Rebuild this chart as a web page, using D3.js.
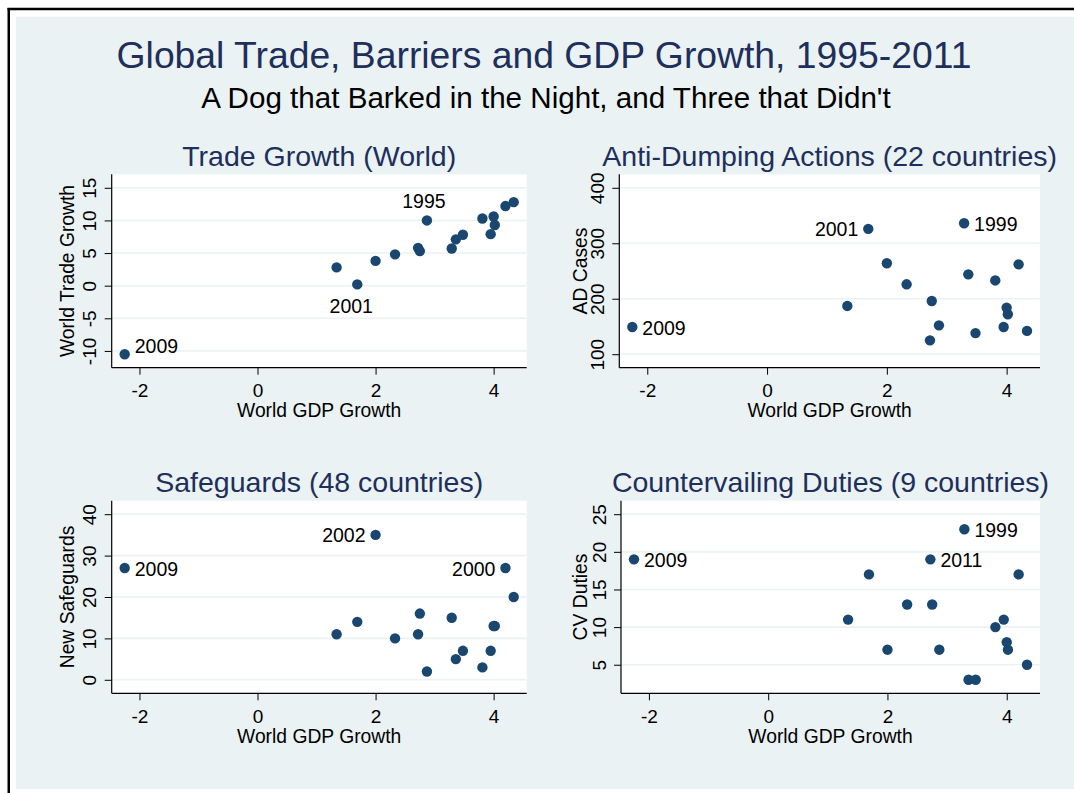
<!DOCTYPE html>
<html>
<head>
<meta charset="utf-8">
<script src="https://cdn.jsdelivr.net/npm/d3@7"></script>
<style>
  html, body { margin: 0; padding: 0; background: #ffffff; }
  svg { display: block; font-family: "Liberation Sans", Arial, sans-serif; }
</style>
</head>
<body>
<svg id="chart" width="1074" height="793"></svg>
<script>
// ---- Dados
const years       = [1995, 1996, 1997, 1998, 1999, 2000, 2001, 2002, 2003, 2004, 2005, 2006, 2007, 2008, 2009, 2010, 2011];
const gdpGrowth   = [2.87, 3.36, 3.81, 2.33, 3.29, 4.20, 1.69, 2.00, 2.75, 4.02, 3.48, 3.95, 4.00, 1.34, -2.25, 4.34, 2.72];
const tradeGrowth = [10.0, 7.1, 10.3, 4.8, 5.7, 12.2, 0.2, 3.8, 5.3, 9.3, 7.8, 7.9, 10.6, 2.8, -10.5, 12.8, 5.8];
const adCases     = [152, 244, 233, 226, 336, 262, 326, 264, 196, 172, 138, 149, 184, 187, 149, 142, 125];
const safeguards  = [2, 5, 3, 10, 15, 27, 14, 35, 16, 13, 7, 7, 13, 11, 27, 20, 11];
const cvDuties    = [7, 3, 10, 13, 23, 17, 17, 7, 13, 7, 3, 11, 8, 11, 19, 5, 19];

const xTicks     = [-2, 0, 2, 4];
const tradeTicks = [-10, -5, 0, 5, 10, 15];
const adTicks    = [100, 200, 300, 400];
const sgTicks    = [0, 10, 20, 30, 40];
const cvTicks    = [5, 10, 15, 20, 25];

const mainTitle = 'Global Trade, Barriers and GDP Growth, 1995-2011';
const subTitle  = "A Dog that Barked in the Night, and Three that Didn't";
const xTitle    = 'World GDP Growth';

// ---- Cores / estilo
const navy = '#1a476f';
const titleColor = '#1e2f5c';
const bg = '#eaf2f3';
const fmt = d => String(d); // hífen simples, como no original

// ---- Posição dos rótulos (estilo "clock position" do Stata)
const clock = {
    2:  { dx: 10,  dy: -1,  anchor: 'start' },
    3:  { dx: 10,  dy: 7.5, anchor: 'start' },
    9:  { dx: -10, dy: 7.5, anchor: 'end' },
    12: { dx: -3,  dy: -12, anchor: 'middle' },
    6:  { dx: -6,  dy: 29,  anchor: 'middle' }
};

const panels = [
    { title: 'Trade Growth (World)', yTitle: 'World Trade Growth', values: tradeGrowth, ticks: tradeTicks,
      labels: [[1995, 12], [2001, 6], [2009, 2]],
      rect: { x: 111.7, y: 174.3, w: 415, h: 193.4 }, yTitleOff: 37.7 },
    { title: 'Anti-Dumping Actions (22 countries)', yTitle: 'AD Cases', values: adCases, ticks: adTicks,
      labels: [[2001, 9], [1999, 3], [2009, 3]],
      rect: { x: 619.3, y: 174.3, w: 420.7, h: 193.4 }, yTitleOff: 32.6 },
    { title: 'Safeguards (48 countries)', yTitle: 'New Safeguards', values: safeguards, ticks: sgTicks,
      labels: [[2002, 9], [2000, 9], [2009, 3]],
      rect: { x: 111.7, y: 500.7, w: 415, h: 192.6 }, yTitleOff: 37.7 },
    { title: 'Countervailing Duties (9 countries)', yTitle: 'CV Duties', values: cvDuties, ticks: cvTicks,
      labels: [[1999, 3], [2011, 3], [2009, 3]],
      rect: { x: 621, y: 500.7, w: 419, h: 192.6 }, yTitleOff: 34.3 }
];

const svg = d3.select('#chart');

// ---- Moldura e fundo
svg.append('rect').attr('x', 16).attr('y', 16.7).attr('width', 1074 - 16).attr('height', 789 - 16.7).attr('fill', bg);
svg.append('line').attr('x1', 8.75).attr('x2', 8.75).attr('y1', 7.9).attr('y2', 793)
    .attr('stroke', '#000').attr('stroke-width', 2.5);
svg.append('line').attr('x1', 7.5).attr('x2', 1074).attr('y1', 9.1).attr('y2', 9.1)
    .attr('stroke', '#000').attr('stroke-width', 2.5);

// ---- Títulos
svg.append('text').attr('x', 544).attr('y', 68).attr('text-anchor', 'middle')
    .attr('font-size', 37.3).attr('fill', titleColor).text(mainTitle);
svg.append('text').attr('x', 546).attr('y', 108).attr('text-anchor', 'middle')
    .attr('font-size', 29.6).attr('fill', '#000').text(subTitle);

const data = years.map((yr, i) => ({ year: yr, gdp: gdpGrowth[i] }));

panels.forEach(p => {
    const r = p.rect;
    const g = svg.append('g').attr('transform', `translate(${r.x}, ${r.y})`);
    const vals = p.values;
    const rows = data.map((d, i) => ({ year: d.year, x: d.gdp, y: vals[i] }));

    // escalas: domínio = extensão de dados + ticks, com margem interna
    const xExt = d3.extent(gdpGrowth.concat(xTicks));
    const yExt = d3.extent(vals.concat(p.ticks));
    const mapX = d3.scaleLinear().domain(xExt).range([13, r.w - 13]);
    const mapY = d3.scaleLinear().domain(yExt).range([r.h - 13.5, 13.5]);

    // região do gráfico
    g.append('rect').attr('width', r.w).attr('height', r.h).attr('fill', '#fff');

    // grade
    g.append('g').selectAll('line').data(p.ticks).join('line')
        .attr('x1', 0).attr('x2', r.w)
        .attr('y1', d => mapY(d)).attr('y2', d => mapY(d))
        .attr('stroke', bg).attr('stroke-width', 1.6);

    // eixo X
    const axX = g.append('g').attr('transform', `translate(0, ${r.h})`)
        .call(d3.axisBottom(mapX).tickValues(xTicks).tickSize(7).tickFormat(fmt));
    axX.select('.domain').remove();
    axX.selectAll('line').attr('stroke', '#000');
    axX.selectAll('text').attr('y', 29.8).attr('dy', null)
        .attr('font-size', 19).attr('font-family', null).attr('fill', '#000');

    // eixo Y (rótulos verticais)
    const axY = g.append('g')
        .call(d3.axisLeft(mapY).tickValues(p.ticks).tickSize(7).tickFormat(fmt));
    axY.select('.domain').remove();
    axY.selectAll('line').attr('stroke', '#000');
    axY.selectAll('text').attr('x', 0).attr('dy', null)
        .attr('transform', 'translate(-15.5, 0) rotate(-90)')
        .attr('text-anchor', 'middle')
        .attr('font-size', 19).attr('font-family', null).attr('fill', '#000');

    // linhas dos eixos
    g.append('line').attr('x1', 0).attr('x2', 0).attr('y1', 0).attr('y2', r.h).attr('stroke', '#000').attr('stroke-width', 1.2);
    g.append('line').attr('x1', 0).attr('x2', r.w).attr('y1', r.h).attr('y2', r.h).attr('stroke', '#000').attr('stroke-width', 1.2);

    // títulos do painel e dos eixos
    g.append('text').attr('x', r.w / 2).attr('y', -8.3).attr('text-anchor', 'middle')
        .attr('font-size', 28.5).attr('fill', titleColor).text(p.title);
    g.append('text').attr('x', r.w / 2).attr('y', r.h + 49.5).attr('text-anchor', 'middle')
        .attr('font-size', 19.3).attr('fill', '#000').text(xTitle);
    g.append('text').attr('transform', `translate(${-p.yTitleOff}, ${r.h / 2}) rotate(-90)`)
        .attr('text-anchor', 'middle').attr('font-size', 19.3).attr('fill', '#000').text(p.yTitle);

    // pontos
    g.append('g').selectAll('circle').data(rows).join('circle')
        .attr('cx', d => mapX(d.x)).attr('cy', d => mapY(d.y)).attr('r', 5.2)
        .attr('fill', navy);

    // rótulos dos anos
    const labelled = p.labels.map(([yr, pos]) => ({ row: rows.find(d => d.year === yr), pos: clock[pos] }));
    g.append('g').selectAll('text').data(labelled).join('text')
        .attr('x', d => mapX(d.row.x) + d.pos.dx)
        .attr('y', d => mapY(d.row.y) + d.pos.dy)
        .attr('text-anchor', d => d.pos.anchor)
        .attr('font-size', 19.5).attr('fill', '#000')
        .text(d => d.row.year);
});
</script>
</body>
</html>
